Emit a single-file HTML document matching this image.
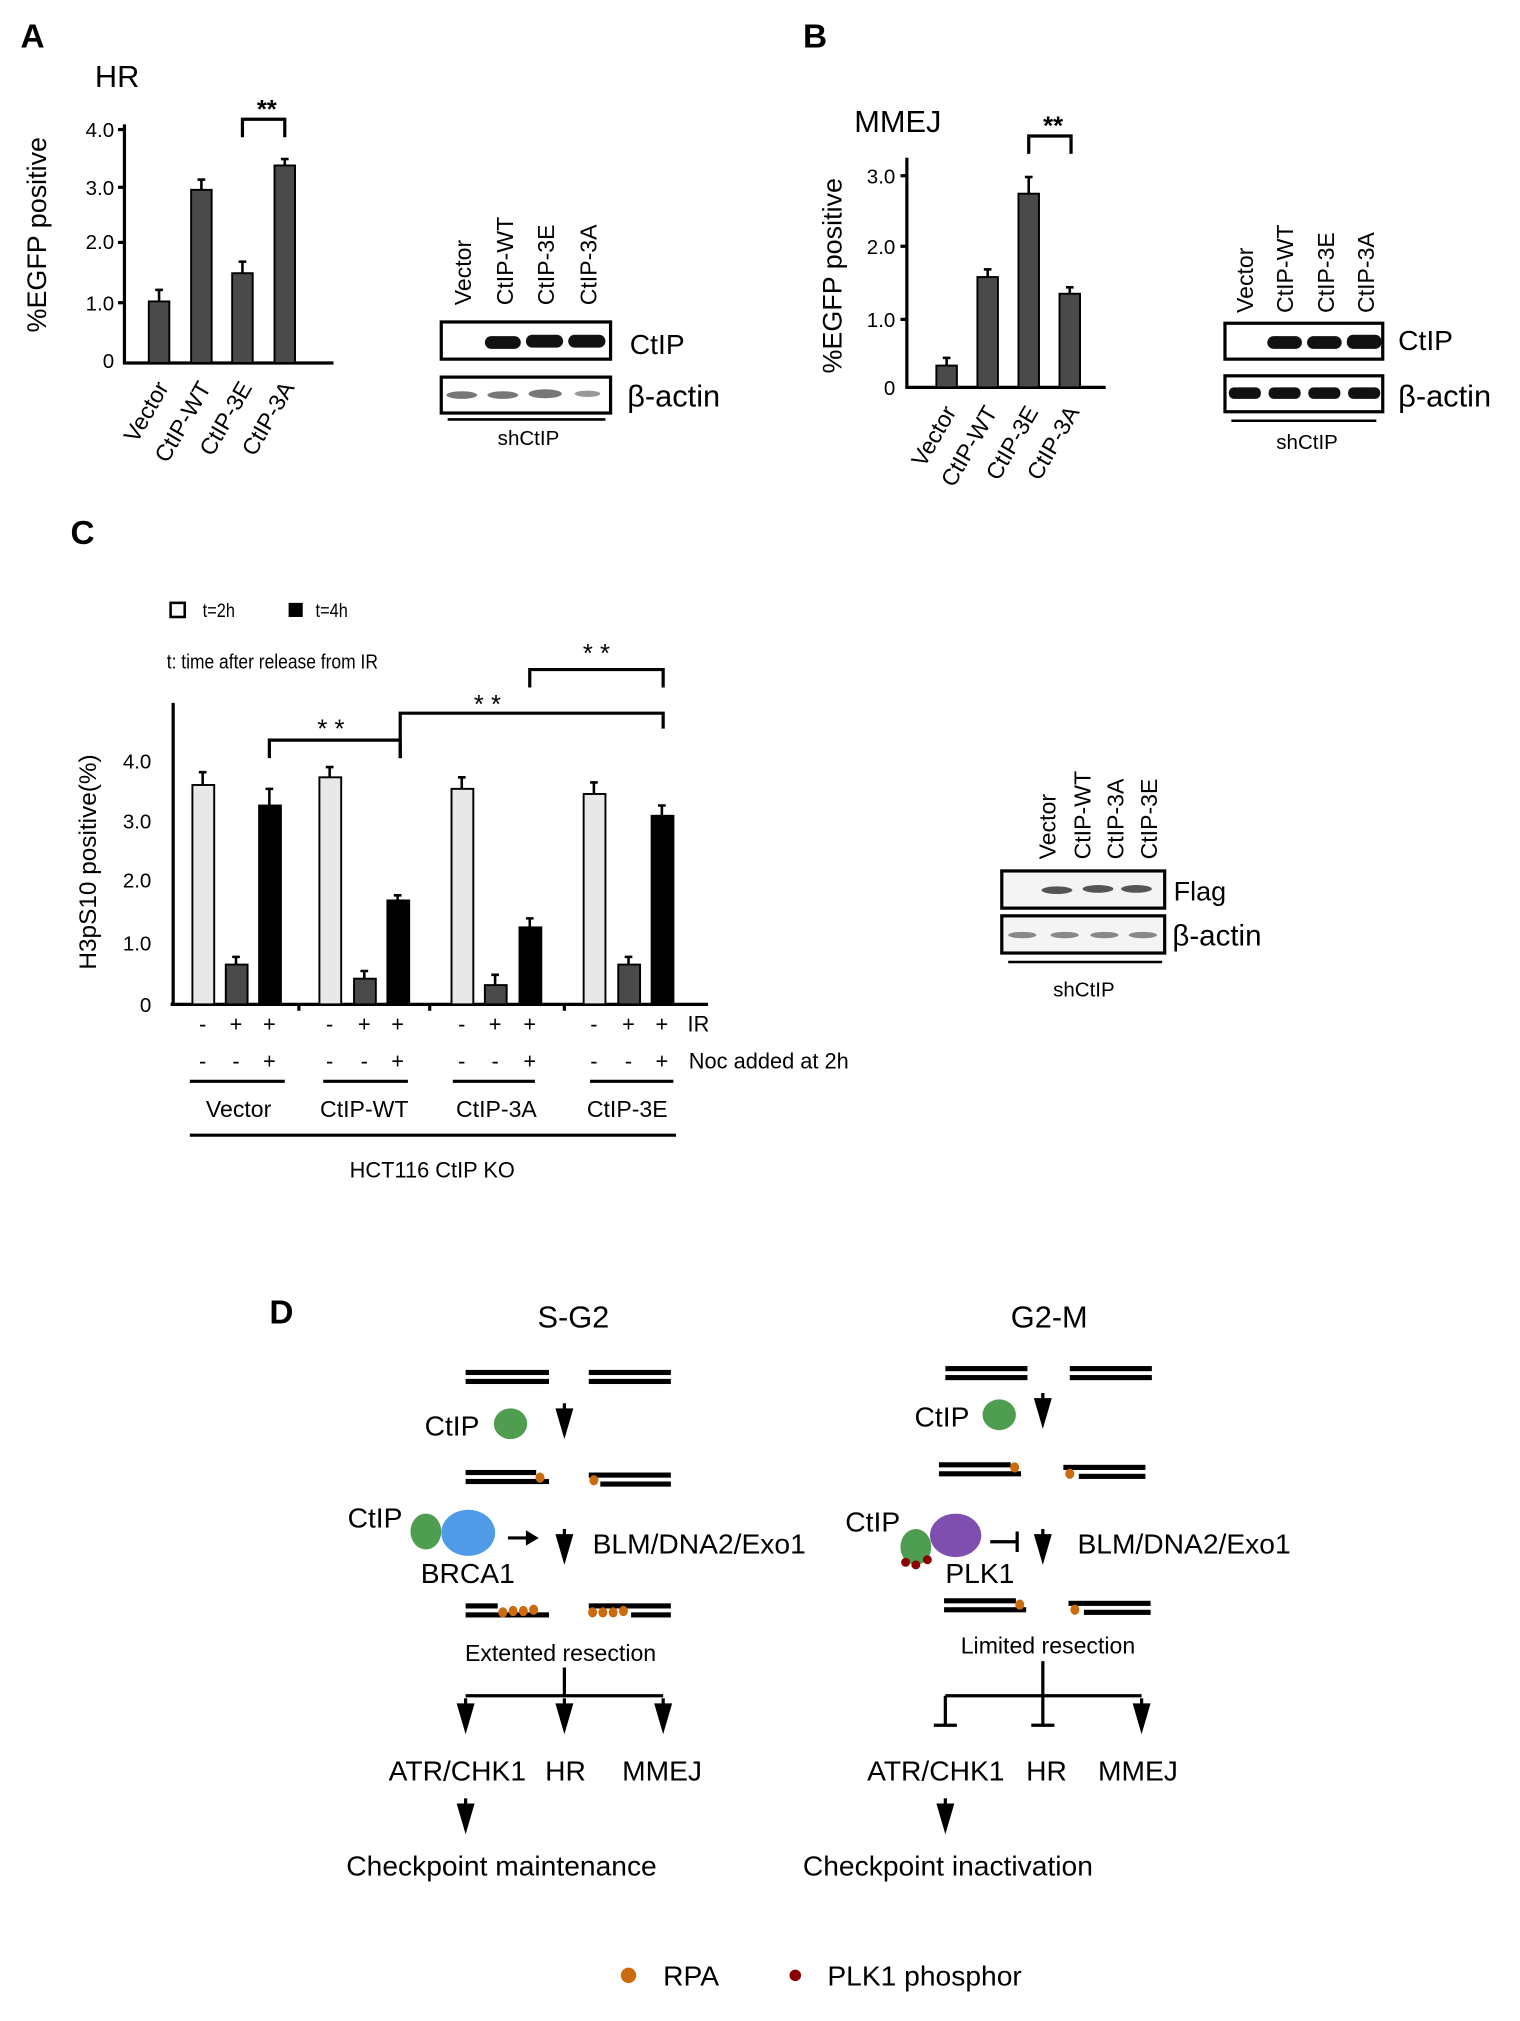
<!DOCTYPE html>
<html><head><meta charset="utf-8"><style>
html,body{margin:0;padding:0;background:#fff}
svg{display:block}
text{font-family:"Liberation Sans",Arial,sans-serif;fill:#000}
</style></head><body>
<svg width="1520" height="2021" viewBox="0 0 1185 1575.6" xmlns="http://www.w3.org/2000/svg">
<defs>
<g id="darr"><line x1="0" y1="-14" x2="0" y2="0" stroke="#000" stroke-width="2.5"/><path d="M-7,-10 L7,-10 L0,14 Z" fill="#000"/></g>
</defs>
<!-- Panel A -->
<text x="16" y="37" font-size="26" font-weight="bold">A</text>
<text x="74" y="68" font-size="24">HR</text>
<text transform="translate(36,183) rotate(-90)" font-size="21" text-anchor="middle">%EGFP positive</text>
<g font-size="16" text-anchor="end">
<text x="89" y="107">4.0</text><text x="89" y="152">3.0</text><text x="89" y="194">2.0</text><text x="89" y="242">1.0</text><text x="89" y="287">0</text>
</g>
<g stroke="#000" stroke-width="2.5"><line x1="97" y1="97" x2="97" y2="284"/><line x1="96" y1="283" x2="260" y2="283"/>
<line x1="92" y1="101" x2="97" y2="101"/><line x1="92" y1="146" x2="97" y2="146"/><line x1="92" y1="189" x2="97" y2="189"/><line x1="92" y1="236" x2="97" y2="236"/></g>
<g fill="#4a4a4a" stroke="#000" stroke-width="1.5">
<rect x="116" y="235" width="16" height="48"/><rect x="149" y="148" width="16" height="135"/><rect x="181" y="213" width="16" height="70"/><rect x="214" y="129" width="16" height="154"/></g>
<g stroke="#000" stroke-width="2"><line x1="124" y1="235" x2="124" y2="226"/><line x1="121" y1="226" x2="127" y2="226"/>
<line x1="157" y1="148" x2="157" y2="140"/><line x1="154" y1="140" x2="160" y2="140"/>
<line x1="189" y1="213" x2="189" y2="204"/><line x1="186" y1="204" x2="192" y2="204"/>
<line x1="222" y1="129" x2="222" y2="124"/><line x1="219" y1="124" x2="225" y2="124"/></g>
<path d="M189,107 V93 H222 V107" fill="none" stroke="#000" stroke-width="2.5"/>
<text x="208" y="92" font-size="20" text-anchor="middle" font-weight="bold">**</text>
<g font-size="18" text-anchor="end">
<text transform="translate(132,302) rotate(-60)">Vector</text><text transform="translate(165,302) rotate(-60)">CtIP-WT</text>
<text transform="translate(197,302) rotate(-60)">CtIP-3E</text><text transform="translate(230,302) rotate(-60)">CtIP-3A</text></g>
<!-- blot A -->
<g font-size="18"><text transform="translate(367,238) rotate(-90)">Vector</text><text transform="translate(400,238) rotate(-90)">CtIP-WT</text><text transform="translate(432,238) rotate(-90)">CtIP-3E</text><text transform="translate(465,238) rotate(-90)">CtIP-3A</text></g>
<rect x="344" y="251" width="132" height="29" fill="#fff" stroke="#000" stroke-width="2.5"/>
<rect x="344" y="294" width="132" height="28" fill="#fff" stroke="#000" stroke-width="2.5"/>
<g fill="#111"><rect x="378" y="262" width="28" height="10" rx="5"/><rect x="410" y="261" width="29" height="10" rx="5"/><rect x="443" y="261" width="29" height="10" rx="5"/></g>
<g fill="#777"><ellipse cx="360" cy="308" rx="12" ry="3"/><ellipse cx="392" cy="308" rx="12" ry="3"/><ellipse cx="425" cy="307" rx="13" ry="3.5"/><ellipse cx="458" cy="307" rx="10" ry="2.5" fill="#999"/></g>
<text x="491" y="276" font-size="22">CtIP</text><text x="489" y="317" font-size="24">β-actin</text>
<line x1="349" y1="327" x2="472" y2="327" stroke="#000" stroke-width="2"/>
<text x="412" y="347" font-size="16" text-anchor="middle">shCtIP</text>
<!-- Panel B -->
<text x="626" y="37" font-size="26" font-weight="bold">B</text>
<text x="666" y="103" font-size="24">MMEJ</text>
<text transform="translate(656,215) rotate(-90)" font-size="21" text-anchor="middle">%EGFP positive</text>
<g font-size="16" text-anchor="end"><text x="698" y="143">3.0</text><text x="698" y="198">2.0</text><text x="698" y="255">1.0</text><text x="698" y="308">0</text></g>
<g stroke="#000" stroke-width="2.5"><line x1="707" y1="123" x2="707" y2="303"/><line x1="706" y1="302" x2="862" y2="302"/>
<line x1="702" y1="137" x2="707" y2="137"/><line x1="702" y1="192" x2="707" y2="192"/><line x1="702" y1="249" x2="707" y2="249"/></g>
<g fill="#4a4a4a" stroke="#000" stroke-width="1.5">
<rect x="730" y="285" width="16" height="17"/><rect x="762" y="216" width="16" height="86"/><rect x="794" y="151" width="16" height="151"/><rect x="826" y="229" width="16" height="73"/></g>
<g stroke="#000" stroke-width="2"><line x1="738" y1="285" x2="738" y2="279"/><line x1="735" y1="279" x2="741" y2="279"/>
<line x1="770" y1="216" x2="770" y2="210"/><line x1="767" y1="210" x2="773" y2="210"/>
<line x1="802" y1="151" x2="802" y2="138"/><line x1="799" y1="138" x2="805" y2="138"/>
<line x1="834" y1="229" x2="834" y2="224"/><line x1="831" y1="224" x2="837" y2="224"/></g>
<path d="M802,120 V106 H835 V120" fill="none" stroke="#000" stroke-width="2.5"/>
<text x="821" y="105" font-size="20" text-anchor="middle" font-weight="bold">**</text>
<g font-size="18" text-anchor="end">
<text transform="translate(746,321) rotate(-60)">Vector</text><text transform="translate(778,321) rotate(-60)">CtIP-WT</text>
<text transform="translate(810,321) rotate(-60)">CtIP-3E</text><text transform="translate(842,321) rotate(-60)">CtIP-3A</text></g>
<g font-size="18"><text transform="translate(977,244) rotate(-90)">Vector</text><text transform="translate(1008,244) rotate(-90)">CtIP-WT</text><text transform="translate(1040,244) rotate(-90)">CtIP-3E</text><text transform="translate(1071,244) rotate(-90)">CtIP-3A</text></g>
<rect x="955" y="252" width="123" height="28" fill="#fff" stroke="#000" stroke-width="2.5"/>
<rect x="955" y="293" width="123" height="28" fill="#fff" stroke="#000" stroke-width="2.5"/>
<g fill="#111"><rect x="988" y="262" width="27" height="10" rx="5"/><rect x="1019" y="262" width="27" height="10" rx="5"/><rect x="1050" y="261" width="27" height="11" rx="5"/>
<rect x="958" y="302" width="25" height="9" rx="4"/><rect x="989" y="302" width="25" height="9" rx="4"/><rect x="1020" y="302" width="25" height="9" rx="4"/><rect x="1051" y="302" width="25" height="9" rx="4"/></g>
<text x="1090" y="273" font-size="22">CtIP</text><text x="1090" y="317" font-size="24">β-actin</text>
<line x1="960" y1="328" x2="1073" y2="328" stroke="#000" stroke-width="2"/>
<text x="1019" y="350" font-size="16" text-anchor="middle">shCtIP</text>
<!-- Panel C -->
<text x="55" y="424" font-size="26" font-weight="bold">C</text>
<rect x="133" y="470" width="11" height="11" fill="#fff" stroke="#000" stroke-width="2"/>
<text x="158" y="481" font-size="15" transform="translate(158,0) scale(0.85,1) translate(-158,0)">t=2h</text>
<rect x="225" y="470" width="11" height="11" fill="#000"/>
<text x="246" y="481" font-size="15" transform="translate(246,0) scale(0.85,1) translate(-246,0)">t=4h</text>
<text x="130" y="521" font-size="16" transform="translate(130,0) scale(0.85,1) translate(-130,0)">t: time after release from IR</text>
<text transform="translate(75,672) rotate(-90)" font-size="19" text-anchor="middle">H3pS10 positive(%)</text>
<g font-size="16" text-anchor="end"><text x="118" y="599">4.0</text><text x="118" y="646">3.0</text><text x="118" y="692">2.0</text><text x="118" y="741">1.0</text><text x="118" y="789">0</text></g>
<g stroke="#000" stroke-width="2.5"><line x1="135" y1="548" x2="135" y2="784"/><line x1="133" y1="783" x2="552" y2="783"/>
<line x1="233" y1="783" x2="233" y2="788"/><line x1="335" y1="783" x2="335" y2="788"/><line x1="440" y1="783" x2="440" y2="788"/></g>
<g stroke="#000" stroke-width="1.5">
<rect x="150" y="612" width="17" height="171" fill="#e8e8e8"/><rect x="176" y="752" width="17" height="31" fill="#4a4a4a"/><rect x="202" y="628" width="17" height="155" fill="#000"/>
<rect x="249" y="606" width="17" height="177" fill="#e8e8e8"/><rect x="276" y="763" width="17" height="20" fill="#4a4a4a"/><rect x="302" y="702" width="17" height="81" fill="#000"/>
<rect x="352" y="615" width="17" height="168" fill="#e8e8e8"/><rect x="378" y="768" width="17" height="15" fill="#4a4a4a"/><rect x="405" y="723" width="17" height="60" fill="#000"/>
<rect x="455" y="619" width="17" height="164" fill="#e8e8e8"/><rect x="482" y="752" width="17" height="31" fill="#4a4a4a"/><rect x="508" y="636" width="17" height="147" fill="#000"/></g>
<g stroke="#000" stroke-width="2">
<path d="M158,612 V602 M155,602 H161"/><path d="M184,752 V746 M181,746 H187"/><path d="M210,628 V615 M207,615 H213"/>
<path d="M257,606 V598 M254,598 H260"/><path d="M284,763 V757 M281,757 H287"/><path d="M310,702 V698 M307,698 H313"/>
<path d="M360,615 V606 M357,606 H363"/><path d="M386,768 V760 M383,760 H389"/><path d="M413,723 V716 M410,716 H416"/>
<path d="M463,619 V610 M460,610 H466"/><path d="M490,752 V746 M487,746 H493"/><path d="M516,636 V628 M513,628 H519"/></g>
<g fill="none" stroke="#000" stroke-width="2.5">
<path d="M210,591 V577 H312 V591"/><path d="M312,591 V556 H517 V568"/><path d="M413,536 V522 H517 V536"/></g>
<g font-size="20" text-anchor="middle"><text x="258" y="575">* *</text><text x="380" y="556">* *</text><text x="465" y="516">* *</text></g>
<g font-size="17" text-anchor="middle">
<text x="158" y="804">-</text><text x="184" y="804">+</text><text x="210" y="804">+</text>
<text x="257" y="804">-</text><text x="284" y="804">+</text><text x="310" y="804">+</text>
<text x="360" y="804">-</text><text x="386" y="804">+</text><text x="413" y="804">+</text>
<text x="463" y="804">-</text><text x="490" y="804">+</text><text x="516" y="804">+</text>
<text x="158" y="833">-</text><text x="184" y="833">-</text><text x="210" y="833">+</text>
<text x="257" y="833">-</text><text x="284" y="833">-</text><text x="310" y="833">+</text>
<text x="360" y="833">-</text><text x="386" y="833">-</text><text x="413" y="833">+</text>
<text x="463" y="833">-</text><text x="490" y="833">-</text><text x="516" y="833">+</text></g>
<text x="536" y="804" font-size="17">IR</text><text x="537" y="833" font-size="17">Noc added at 2h</text>
<g stroke="#000" stroke-width="2.5"><line x1="148" y1="843" x2="222" y2="843"/><line x1="252" y1="843" x2="318" y2="843"/><line x1="353" y1="843" x2="417" y2="843"/><line x1="460" y1="843" x2="525" y2="843"/><line x1="148" y1="885" x2="527" y2="885"/></g>
<g font-size="18" text-anchor="middle"><text x="186" y="871">Vector</text><text x="284" y="871">CtIP-WT</text><text x="387" y="871">CtIP-3A</text><text x="489" y="871">CtIP-3E</text></g>
<text x="337" y="918" font-size="17" text-anchor="middle">HCT116 CtIP KO</text>
<!-- blot C -->
<g font-size="18"><text transform="translate(823,670) rotate(-90)">Vector</text><text transform="translate(850,670) rotate(-90)">CtIP-WT</text><text transform="translate(876,670) rotate(-90)">CtIP-3A</text><text transform="translate(902,670) rotate(-90)">CtIP-3E</text></g>
<rect x="781" y="679" width="127" height="29" fill="#f4f4f4" stroke="#000" stroke-width="2.5"/>
<rect x="781" y="714" width="127" height="29" fill="#f4f4f4" stroke="#000" stroke-width="2.5"/>
<g fill="#555"><ellipse cx="824" cy="694" rx="12" ry="3"/><ellipse cx="856" cy="693" rx="12" ry="3"/><ellipse cx="886" cy="693" rx="12" ry="3"/></g>
<g fill="#888"><ellipse cx="797" cy="729" rx="11" ry="2.5"/><ellipse cx="830" cy="729" rx="11" ry="2.5"/><ellipse cx="861" cy="729" rx="11" ry="2.5"/><ellipse cx="891" cy="729" rx="11" ry="2.5"/></g>
<text x="915" y="702" font-size="21">Flag</text><text x="914" y="737" font-size="23">β-actin</text>
<line x1="786" y1="750" x2="906" y2="750" stroke="#000" stroke-width="2"/>
<text x="845" y="777" font-size="16" text-anchor="middle">shCtIP</text>
<!-- Panel D -->
<text x="210" y="1032" font-size="26" font-weight="bold">D</text>
<text x="447" y="1035" font-size="24" text-anchor="middle">S-G2</text>
<text x="818" y="1035" font-size="24" text-anchor="middle">G2-M</text>
<g fill="#000">
<rect x="363" y="1068" width="65" height="4"/><rect x="363" y="1075" width="65" height="4"/><rect x="459" y="1068" width="64" height="4"/><rect x="459" y="1075" width="64" height="4"/>
<rect x="363" y="1146" width="55" height="4"/><rect x="363" y="1153" width="65" height="4"/><rect x="459" y="1148" width="64" height="4"/><rect x="468" y="1155" width="55" height="4"/>
<rect x="363" y="1250" width="25" height="4"/><rect x="363" y="1257" width="65" height="4"/><rect x="459" y="1250" width="64" height="4"/><rect x="492" y="1257" width="31" height="4"/>
<rect x="737" y="1065" width="64" height="4"/><rect x="737" y="1072" width="64" height="4"/><rect x="834" y="1065" width="64" height="4"/><rect x="834" y="1072" width="64" height="4"/>
<rect x="732" y="1140" width="56" height="4"/><rect x="732" y="1147" width="64" height="4"/><rect x="829" y="1142" width="64" height="4"/><rect x="841" y="1149" width="52" height="4"/>
<rect x="736" y="1246" width="56" height="4"/><rect x="736" y="1253" width="64" height="4"/><rect x="833" y="1248" width="64" height="4"/><rect x="845" y="1255" width="52" height="4"/>
</g>
<g fill="#cc6a10">
<ellipse cx="421" cy="1152" rx="3.5" ry="4"/><ellipse cx="463" cy="1154" rx="3.5" ry="4"/>
<ellipse cx="392" cy="1257" rx="3.5" ry="4"/><ellipse cx="400" cy="1256" rx="3.5" ry="4"/><ellipse cx="408" cy="1256" rx="3.5" ry="4"/><ellipse cx="416" cy="1255" rx="3.5" ry="4"/>
<ellipse cx="462" cy="1257" rx="3.5" ry="4"/><ellipse cx="470" cy="1257" rx="3.5" ry="4"/><ellipse cx="478" cy="1257" rx="3.5" ry="4"/><ellipse cx="486" cy="1256" rx="3.5" ry="4"/>
<ellipse cx="791" cy="1144" rx="3.5" ry="4"/><ellipse cx="834" cy="1149" rx="3.5" ry="4"/>
<ellipse cx="795" cy="1251" rx="3.5" ry="4"/><ellipse cx="838" cy="1255" rx="3.5" ry="4"/>
<circle cx="490" cy="1540" r="6"/></g>
<g fill="#4f9d50"><ellipse cx="398" cy="1110" rx="13" ry="12"/><ellipse cx="332" cy="1194" rx="12" ry="14"/><ellipse cx="779" cy="1103" rx="13" ry="12"/><ellipse cx="714" cy="1206" rx="12" ry="14"/></g>
<ellipse cx="365" cy="1195" rx="21" ry="18" fill="#4f9be8"/>
<ellipse cx="745" cy="1197" rx="20" ry="17" fill="#7f4fb0"/>
<g fill="#8b0000"><circle cx="706" cy="1218" r="3.5"/><circle cx="714" cy="1220" r="3.5"/><circle cx="723" cy="1216" r="3.5"/><circle cx="620" cy="1540" r="4.5"/></g>
<g font-size="22">
<text x="331" y="1119">CtIP</text><text x="271" y="1191">CtIP</text><text x="328" y="1234">BRCA1</text><text x="462" y="1211">BLM/DNA2/Exo1</text>
<text x="713" y="1112">CtIP</text><text x="659" y="1194">CtIP</text><text x="737" y="1234">PLK1</text><text x="840" y="1211">BLM/DNA2/Exo1</text>
<text x="303" y="1388">ATR/CHK1</text><text x="425" y="1388">HR</text><text x="485" y="1388">MMEJ</text>
<text x="676" y="1388">ATR/CHK1</text><text x="800" y="1388">HR</text><text x="856" y="1388">MMEJ</text>
<text x="391" y="1462" text-anchor="middle">Checkpoint maintenance</text><text x="739" y="1462" text-anchor="middle">Checkpoint inactivation</text>
<text x="517" y="1548">RPA</text><text x="645" y="1548">PLK1 phosphor</text></g>
<g font-size="18" text-anchor="middle"><text x="437" y="1295">Extented resection</text><text x="817" y="1289">Limited resection</text></g>
<use href="#darr" x="440" y="1108"/><use href="#darr" x="440" y="1206"/><use href="#darr" x="813" y="1100"/><use href="#darr" x="813" y="1206"/>
<use href="#darr" x="363" y="1338"/><use href="#darr" x="440" y="1338"/><use href="#darr" x="517" y="1338"/><use href="#darr" x="890" y="1338"/>
<use href="#darr" x="363" y="1416"/><use href="#darr" x="737" y="1416"/>
<g stroke="#000" stroke-width="2.5" fill="none">
<path d="M440,1300 V1322 M363,1322 H517"/><path d="M396,1199 H412"/>
<path d="M813,1295 V1345 M737,1322 H890 M737,1322 V1345 M728,1345 H746 M804,1345 H822"/>
<path d="M772,1202 H792 M793,1194 V1210"/></g>
<path d="M420,1199 L410,1193 L410,1205 Z" fill="#000"/>
</svg>
</body></html>
